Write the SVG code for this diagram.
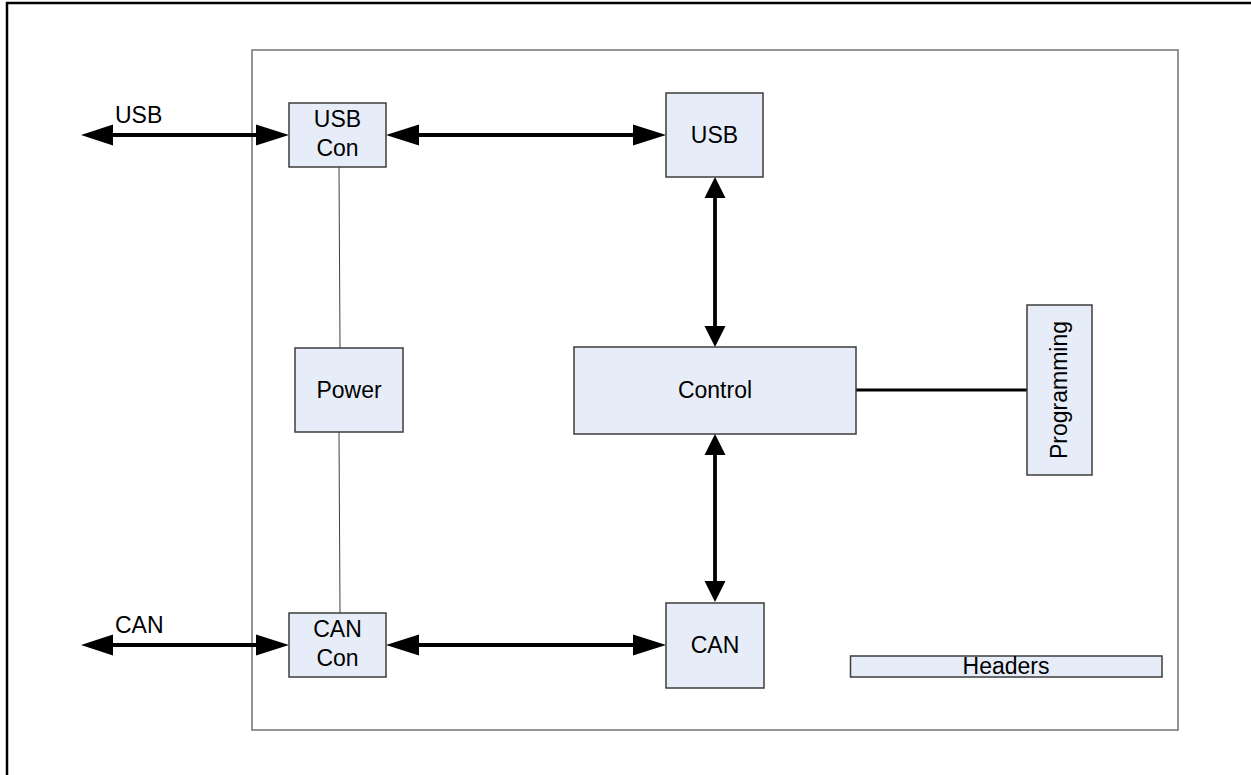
<svg xmlns="http://www.w3.org/2000/svg" width="1251" height="775" viewBox="0 0 1251 775">
<style>
.box{fill:#e7edf8;stroke:#3c3c3c;stroke-width:1.5}
.t{font-family:"Liberation Sans",Arial,sans-serif;font-size:23px;fill:#000;text-anchor:middle}
.ts{font-family:"Liberation Sans",Arial,sans-serif;font-size:23px;fill:#000;text-anchor:start}
.thick{stroke:#000;stroke-width:3.8;fill:none}
.thin{stroke:#404040;stroke-width:1;fill:none}
.ah{fill:#000}
</style>
<rect x="0" y="0" width="1251" height="775" fill="#fff"/>
<g id="page-frame">
<rect x="7" y="3" width="1300" height="820" fill="none" stroke="#000" stroke-width="2.5"/>
</g>
<g id="board">
<rect x="252" y="50" width="926" height="680" fill="none" stroke="#7a7a7a" stroke-width="1.6"/>
</g>
<g id="connectors">
<line class="thin" x1="339" y1="167" x2="340" y2="348"/>
<line class="thin" x1="339" y1="432" x2="340" y2="613"/>
<line class="thick" x1="100" y1="135" x2="270" y2="135"/>
<polygon class="ah" points="81,135 113,124.5 113,145.5"/>
<polygon class="ah" points="289,135 256,124.5 256,145.5"/>
<line class="thick" x1="405" y1="135" x2="645" y2="135"/>
<polygon class="ah" points="386,135 419,124.5 419,145.5"/>
<polygon class="ah" points="666,135 633,124.5 633,145.5"/>
<line class="thick" x1="100" y1="645" x2="270" y2="645"/>
<polygon class="ah" points="81,645 113,634.5 113,655.5"/>
<polygon class="ah" points="289,645 256,634.5 256,655.5"/>
<line class="thick" x1="405" y1="645" x2="645" y2="645"/>
<polygon class="ah" points="386,645 419,634.5 419,655.5"/>
<polygon class="ah" points="666,645 633,634.5 633,655.5"/>
<line class="thick" x1="715" y1="190" x2="715" y2="335"/>
<polygon class="ah" points="715,177 704.5,198 725.5,198"/>
<polygon class="ah" points="715,347 704.5,326 725.5,326"/>
<line class="thick" x1="715" y1="446" x2="715" y2="590"/>
<polygon class="ah" points="715,434 704.5,455 725.5,455"/>
<polygon class="ah" points="715,602 704.5,581 725.5,581"/>
<line stroke="#000" stroke-width="3" x1="856" y1="390" x2="1027" y2="390"/>
</g>
<g id="usb-label"><text class="ts" x="115" y="123">USB</text></g>
<g id="can-label"><text class="ts" x="115" y="633">CAN</text></g>
<g id="usb-con">
<rect class="box" x="289" y="103" width="97" height="64"/>
<text class="t" x="337.5" y="127">USB</text>
<text class="t" x="337.5" y="156">Con</text>
</g>
<g id="usb">
<rect class="box" x="666" y="93" width="97" height="84"/>
<text class="t" x="714.5" y="143">USB</text>
</g>
<g id="power">
<rect class="box" x="295" y="348" width="108" height="84"/>
<text class="t" x="349" y="398">Power</text>
</g>
<g id="control">
<rect class="box" x="574" y="347" width="282" height="87"/>
<text class="t" x="715" y="398">Control</text>
</g>
<g id="programming">
<rect class="box" x="1027" y="305" width="65" height="170"/>
<text class="t" x="0" y="0" transform="translate(1067,390) rotate(-90)">Programming</text>
</g>
<g id="can-con">
<rect class="box" x="289" y="613" width="97" height="64"/>
<text class="t" x="337.5" y="637">CAN</text>
<text class="t" x="337.5" y="666">Con</text>
</g>
<g id="can">
<rect class="box" x="666" y="603" width="98" height="85"/>
<text class="t" x="715" y="653">CAN</text>
</g>
<g id="headers">
<rect class="box" x="850.5" y="656" width="311.5" height="21"/>
<text class="t" x="1006" y="673.5">Headers</text>
</g>
</svg>
